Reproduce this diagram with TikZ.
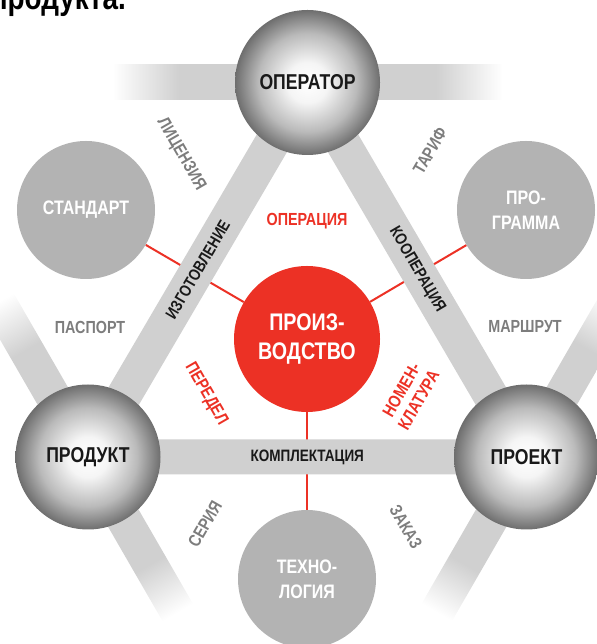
\documentclass[tikz,border=0pt]{standalone}
\usepackage{fontspec}
\setmainfont{Liberation Sans}[FakeStretch=0.82]
\usepackage{xcolor}
\usepackage{tikz}
\usetikzlibrary{positioning, calc, backgrounds}

\definecolor{barcol}{RGB}{208,208,208}
\definecolor{discgray}{RGB}{179,179,179}
\definecolor{prodred}{RGB}{236,49,37}
\definecolor{labelgray}{RGB}{125,125,125}
\definecolor{midgray}{RGB}{186,186,186}
\definecolor{rimgray}{RGB}{110,110,110}

\pgfdeclareradialshading{ballshade}{\pgfpointorigin}{%
  color(0bp)=(white); color(7bp)=(white!96!black); color(17bp)=(midgray);
  color(25bp)=(rimgray); color(50bp)=(rimgray)}
\pgfdeclarehorizontalshading{barfade}{100bp}{%
  color(0bp)=(barcol); color(25bp)=(barcol); color(58bp)=(barcol);
  color(75bp)=(white); color(100bp)=(white)}

\tikzset{
  ball/.style={circle, minimum size=145pt, inner sep=0pt, shading=ballshade,
    text=black!90, font=\fontsize{21.5}{24}\selectfont\bfseries},
  disc/.style={circle, minimum size=138pt, inner sep=0pt, fill=discgray,
    text=white, align=center, font=\fontsize{19.5}{25}\selectfont\bfseries},
  core/.style={circle, minimum size=146pt, inner sep=0pt, fill=prodred,
    text=white, align=center, font=\fontsize{24}{29}\selectfont\bfseries},
  bar/.style={line width=35pt, draw=barcol},
  link/.style={line width=2pt, draw=prodred},
  barlabel/.style={text=black!90, font=\fontsize{16.5}{19}\selectfont\bfseries},
  tag/.style={text=labelgray, font=\fontsize{17.5}{20}\selectfont\bfseries},
  redtag/.style={text=prodred, align=center,
    font=\fontsize{17.5}{20}\selectfont\bfseries}
}

\begin{document}
\begin{tikzpicture}[x=1pt, y=1pt]
    \useasboundingbox (0,0) rectangle (596,644);

    \node[anchor=base east, inner sep=0pt, font=\fontsize{34}{36}\selectfont\bfseries]
      (title) at (126,634) {продукта.};

    \node[ball] (oper) at (307.5,561.5) {ОПЕРАТОР};
    \node[ball] (prod) at (88,187) {ПРОДУКТ};
    \node[ball] (proj) at (526.5,187) {ПРОЕКТ};
    \node[core] (manuf) at (307,305) {ПРОИЗ-\\ВОДСТВО};
    \node[disc] (std) at (86,434) {СТАНДАРТ};
    \node[disc] (prog) at (526,434) {ПРО-\\ГРАММА};
    \node[disc] (tech) at (307,65) {ТЕХНО-\\ЛОГИЯ};

    \begin{scope}[on background layer]
      \draw[link] (manuf) -- (std);
      \draw[link] (manuf) -- (prog);
      \draw[link] (manuf) -- (tech);
      \foreach \c/\a in {oper/0, oper/180, prod/120, prod/-60, proj/60, proj/240} {
        \begin{scope}[shift={(\c.center)}, rotate=\a]
          \shade[shading=barfade, shading angle=\a] (0,-17.5) rectangle (195,17.5);
        \end{scope}
      }
      \draw[bar] (oper.center) -- (prod.center) -- (proj.center) -- cycle;
    \end{scope}

    \path (prod) -- node[barlabel, sloped] (make) {ИЗГОТОВЛЕНИЕ} (oper);
    \path (oper) -- node[barlabel, sloped] (coop) {КООПЕРАЦИЯ} (proj);
    \path (prod) -- node[barlabel] (kit) {КОМПЛЕКТАЦИЯ} (proj);

    \node[tag, rotate=-60] (lic) at (181,490) {ЛИЦЕНЗИЯ};
    \node[tag, rotate=60] (tarif) at (430,493) {ТАРИФ};
    \node[tag] (pass) at (90,317) {ПАСПОРТ};
    \node[tag] (route) at (525,317) {МАРШРУТ};
    \node[tag, rotate=60] (series) at (205,120) {СЕРИЯ};
    \node[tag, rotate=-60] (order) at (406,117) {ЗАКАЗ};

    \node[redtag] (op) at (307,423) {ОПЕРАЦИЯ};
    \node[redtag, rotate=-60] (redo) at (206,250) {ПЕРЕДЕЛ};
    \node[redtag, rotate=60] (nom) at (410,249) {НОМЕН-\\КЛАТУРА};
\end{tikzpicture}
\end{document}
